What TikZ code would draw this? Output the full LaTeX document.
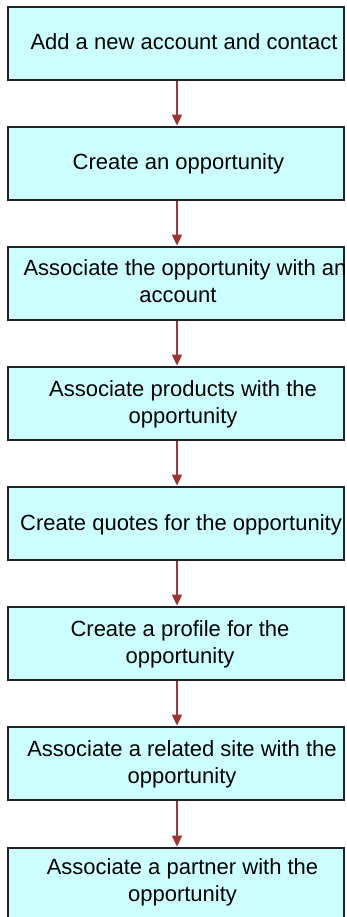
\documentclass[tikz,border=0pt]{standalone}
\usepackage{fontspec}
\setmainfont{Liberation Sans}
\usetikzlibrary{arrows.meta}
\definecolor{boxfill}{HTML}{CCFFFF}
\definecolor{boxline}{HTML}{222222}
\definecolor{arrowred}{HTML}{9E3333}
\tikzset{
  stepbox/.style={draw=boxline, line width=1.8pt, fill=boxfill, minimum width=336pt, minimum height=73pt, inner sep=0pt},
  lbl/.style={font=\fontsize{22}{27}\selectfont, align=center, inner sep=0pt, anchor=base, text=black},
  arr/.style={draw=arrowred, line width=1.6pt, -{Triangle[width=10pt,length=11pt]}, shorten >=0.5pt}
}
\begin{document}
\begin{tikzpicture}[x=1pt,y=-1pt]
\clip (0,0) rectangle (346,917);
\fill[white] (0,0) rectangle (346,917);
\node[stepbox] (b1) at (176,43.5) {};
\node[stepbox] (b2) at (176,163.5) {};
\node[stepbox] (b3) at (176,283.5) {};
\node[stepbox] (b4) at (176,403.5) {};
\node[stepbox] (b5) at (176,523.5) {};
\node[stepbox] (b6) at (176,643.5) {};
\node[stepbox] (b7) at (176,763.5) {};
\node[stepbox] (b8) at (176,884.5) {};
\node[lbl] (t1) at (184,50) {Add a new account and contact};
\node[lbl] (t2) at (178.5,170) {Create an opportunity};
\begin{scope}
\clip ([xshift=0.9pt]b3.north west) rectangle ([xshift=-0.9pt]b3.south east);
\node[lbl] (t3) at (185,302) {Associate the opportunity with an\\\hspace*{-14pt}account};
\end{scope}
\node[lbl] (t4) at (183,423) {Associate products with the\\opportunity};
\node[lbl] (t5) at (181,530) {Create quotes for the opportunity};
\node[lbl] (t6) at (180,663) {Create a profile for the\\opportunity};
\node[lbl] (t7) at (182,783) {Associate a related site with the\\opportunity};
\node[lbl] (t8) at (182.5,901) {Associate a partner with the\\opportunity};
\draw[arr] ([xshift=1pt]b1.south) -- ([xshift=1pt]b2.north);
\draw[arr] ([xshift=1pt]b2.south) -- ([xshift=1pt]b3.north);
\draw[arr] ([xshift=1pt]b3.south) -- ([xshift=1pt]b4.north);
\draw[arr] ([xshift=1pt]b4.south) -- ([xshift=1pt]b5.north);
\draw[arr] ([xshift=1pt]b5.south) -- ([xshift=1pt]b6.north);
\draw[arr] ([xshift=1pt]b6.south) -- ([xshift=1pt]b7.north);
\draw[arr] ([xshift=1pt]b7.south) -- ([xshift=1pt]b8.north);
\end{tikzpicture}
\end{document}
